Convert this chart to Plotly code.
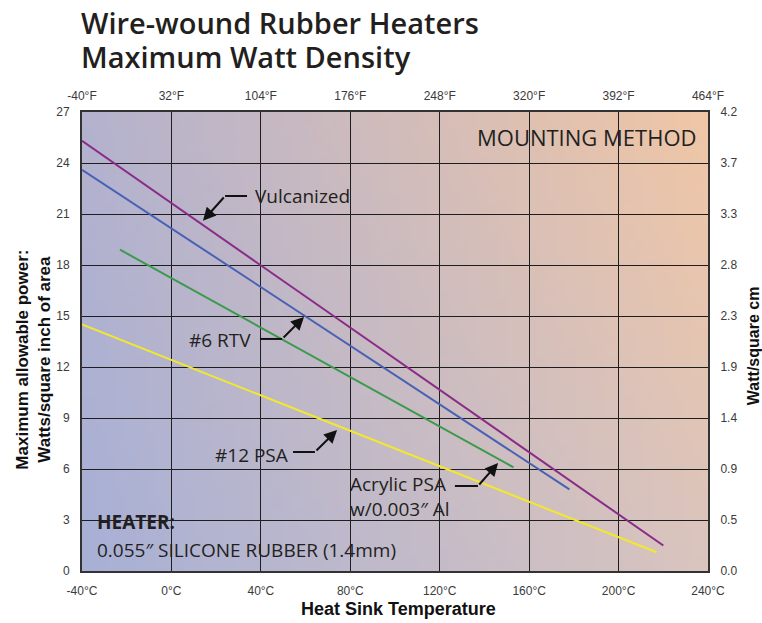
import base64, struct, zlib
import plotly.graph_objects as go

# ---------------- data ----------------
temp_c_ticks = [-40, 0, 40, 80, 120, 160, 200, 240]
temp_c_labels = ["-40°C", "0°C", "40°C", "80°C", "120°C", "160°C", "200°C", "240°C"]
temp_f_labels = ["-40°F", "32°F", "104°F", "176°F", "248°F", "320°F", "392°F", "464°F"]
watt_in_ticks = [0, 3, 6, 9, 12, 15, 18, 21, 24, 27]
watt_cm_labels = ["0.0", "0.5", "0.9", "1.4", "1.9", "2.3", "2.8", "3.3", "3.7", "4.2"]

vulcanized_t = [-40, 220]
vulcanized_w = [25.3, 1.5]
rtv_t = [-40, 178]
rtv_w = [23.6, 4.8]
acrylic_t = [-23, 153]
acrylic_w = [18.9, 6.1]
psa12_t = [-40, 217]
psa12_w = [14.5, 1.1]

# ---------------- gradient background image ----------------
def make_png(w, h, tl, tr, bl, br):
    rows = []
    for j in range(h):
        v = j / (h - 1)
        row = bytearray([0])
        for i in range(w):
            u = i / (w - 1)
            for k in range(3):
                top = tl[k] * (1 - u) + tr[k] * u
                bot = bl[k] * (1 - u) + br[k] * u
                row.append(int(round(top * (1 - v) + bot * v)))
        rows.append(bytes(row))
    raw = b"".join(rows)

    def chunk(tag, data):
        c = struct.pack(">I", len(data)) + tag + data
        return c + struct.pack(">I", zlib.crc32(tag + data) & 0xFFFFFFFF)

    png = b"\x89PNG\r\n\x1a\n"
    png += chunk(b"IHDR", struct.pack(">IIBBBBB", w, h, 8, 2, 0, 0, 0))
    png += chunk(b"IDAT", zlib.compress(raw, 9))
    png += chunk(b"IEND", b"")
    return "data:image/png;base64," + base64.b64encode(png).decode()

bg_uri = make_png(64, 48, (180, 178, 206), (240, 198, 166), (168, 176, 214), (218, 196, 190))

# ---------------- figure ----------------
fig = go.Figure()

line_specs = [
    (vulcanized_t, vulcanized_w, "#8a2b88", "Vulcanized"),
    (rtv_t, rtv_w, "#4861b6", "#6 RTV"),
    (acrylic_t, acrylic_w, "#3c9a4c", "Acrylic PSA"),
    (psa12_t, psa12_w, "#f2e82e", "#12 PSA"),
]
for xs, ys, col, name in line_specs:
    fig.add_trace(go.Scatter(x=xs, y=ys, mode="lines", line=dict(color=col, width=2),
                             name=name, showlegend=False, hoverinfo="skip"))

# invisible trace to activate the secondary axes
fig.add_trace(go.Scatter(x=[None], y=[None], xaxis="x2", yaxis="y2", showlegend=False,
                         hoverinfo="skip"))

tick_font = dict(family="Liberation Sans, Arial, sans-serif", size=12, color="#3a3a3a")
grid_col = "#1e1e1e"

fig.update_layout(
    width=762, height=623,
    margin=dict(l=82, r=54, t=112, b=52),
    paper_bgcolor="white",
    plot_bgcolor="rgba(0,0,0,0)",
    showlegend=False,
    xaxis=dict(range=[-40, 240], tickvals=temp_c_ticks, ticktext=temp_c_labels,
               showgrid=True, gridcolor=grid_col, gridwidth=1.2, zeroline=False,
               showline=True, linecolor="#333", linewidth=2, mirror=True,
               ticks="outside", ticklen=8, tickcolor="rgba(0,0,0,0)", tickfont=tick_font),
    xaxis2=dict(range=[-40, 240], tickvals=temp_c_ticks, ticktext=temp_f_labels,
                overlaying="x", side="top", showgrid=False, zeroline=False,
                ticks="outside", ticklen=6, tickcolor="rgba(0,0,0,0)", tickfont=tick_font),
    yaxis=dict(range=[0, 27], tickvals=watt_in_ticks, ticktext=[str(v) for v in watt_in_ticks],
               showgrid=True, gridcolor=grid_col, gridwidth=1.2, zeroline=False,
               showline=True, linecolor="#333", linewidth=2, mirror=True,
               ticks="outside", ticklen=8, tickcolor="rgba(0,0,0,0)", tickfont=tick_font),
    yaxis2=dict(range=[0, 27], tickvals=watt_in_ticks, ticktext=watt_cm_labels,
                overlaying="y", side="right", showgrid=False, zeroline=False,
                ticks="outside", ticklen=9, tickcolor="rgba(0,0,0,0)", tickfont=tick_font),
    images=[dict(source=bg_uri, xref="paper", yref="paper", x=0, y=1, sizex=1, sizey=1,
                 xanchor="left", yanchor="top", sizing="stretch", layer="below")],
)

title_font = dict(family="Open Sans, sans-serif", size=29, color="#231f20", weight=600)
label_font = dict(family="Open Sans, sans-serif", size=19, color="#231f20")
axis_title_font = dict(family="Liberation Sans, Arial, sans-serif", size=17, color="#111",
                       weight="bold")

ann = []
# title
ann.append(dict(text="Wire-wound Rubber Heaters", xref="paper", yref="paper", x=-0.004, y=1.195,
                xanchor="left", yanchor="middle", showarrow=False, font=title_font))
ann.append(dict(text="Maximum Watt Density", xref="paper", yref="paper", x=-0.004, y=1.122,
                xanchor="left", yanchor="middle", showarrow=False, font=title_font))
# axis titles
ann.append(dict(text="Maximum allowable power:<br>Watts/square inch of area", xref="paper",
                yref="paper", x=-0.077, y=0.46, xanchor="center", yanchor="middle",
                textangle=-90, showarrow=False, font=axis_title_font))
ann.append(dict(text="Watt/square cm", xref="paper", yref="paper", x=1.072, y=0.49,
                xanchor="center", yanchor="middle", textangle=-90, showarrow=False,
                font=dict(family="Liberation Sans, Arial, sans-serif", size=16, color="#111",
                          weight="bold")))
ann.append(dict(text="Heat Sink Temperature", xref="paper", yref="paper", x=0.505, y=-0.083,
                xanchor="center", yanchor="middle", showarrow=False,
                font=dict(family="Liberation Sans, Arial, sans-serif", size=18, color="#111",
                          weight="bold")))
# in-plot labels
ann.append(dict(text="MOUNTING METHOD", x=235.5, y=25.53, xanchor="right", yanchor="middle",
                showarrow=False, font=dict(family="Open Sans, sans-serif", size=22,
                                           color="#231f20")))
ann.append(dict(text="Vulcanized", x=36.5, y=22.06, xanchor="left", yanchor="middle",
                showarrow=False, font=label_font))
ann.append(dict(text="#6 RTV", x=21.7, y=13.6, xanchor="center", yanchor="middle",
                showarrow=False, font=label_font))
ann.append(dict(text="#12 PSA", x=35.6, y=6.82, xanchor="center", yanchor="middle",
                showarrow=False, font=label_font))
ann.append(dict(text="Acrylic PSA<br>w/0.003″ Al", x=79.0, y=4.41, xanchor="left",
                yanchor="middle", align="left", showarrow=False, font=label_font))
ann.append(dict(text="<b>HEATER:</b>", x=-34.2, y=2.88, xanchor="left", yanchor="middle",
                showarrow=False, font=label_font))
ann.append(dict(text="0.055″ SILICONE RUBBER (1.4mm)", x=-34.2, y=1.24, xanchor="left",
                yanchor="middle", showarrow=False, font=label_font))

# leader arrows: (horizontal start x, horizontal end x, y, tip x, tip y)
leaders = [
    (33.8, 24.0, 22.06, 14.1, 20.6),
    (39.6, 49.5, 13.65, 59.3, 14.94),
    (54.4, 64.2, 7.0, 74.1, 8.29),
    (126.8, 137.1, 5.0, 146.1, 6.35),
]
shapes = []
for x0, x1, yh, xt, yt in leaders:
    shapes.append(dict(type="line", xref="x", yref="y", x0=x0, x1=x1, y0=yh, y1=yh,
                       line=dict(color="#111", width=2)))
    ann.append(dict(text="", x=xt, y=yt, ax=x1, ay=yh, axref="x", ayref="y", xref="x",
                    yref="y", showarrow=True, arrowhead=2, arrowsize=1.3, arrowwidth=2,
                    arrowcolor="#111", standoff=0, startstandoff=0))

fig.update_layout(annotations=ann, shapes=shapes)

fig.write_html("out.html", config={"displayModeBar": False},
               post_script="document.body.style.margin='0';document.body.style.overflow='hidden';")
